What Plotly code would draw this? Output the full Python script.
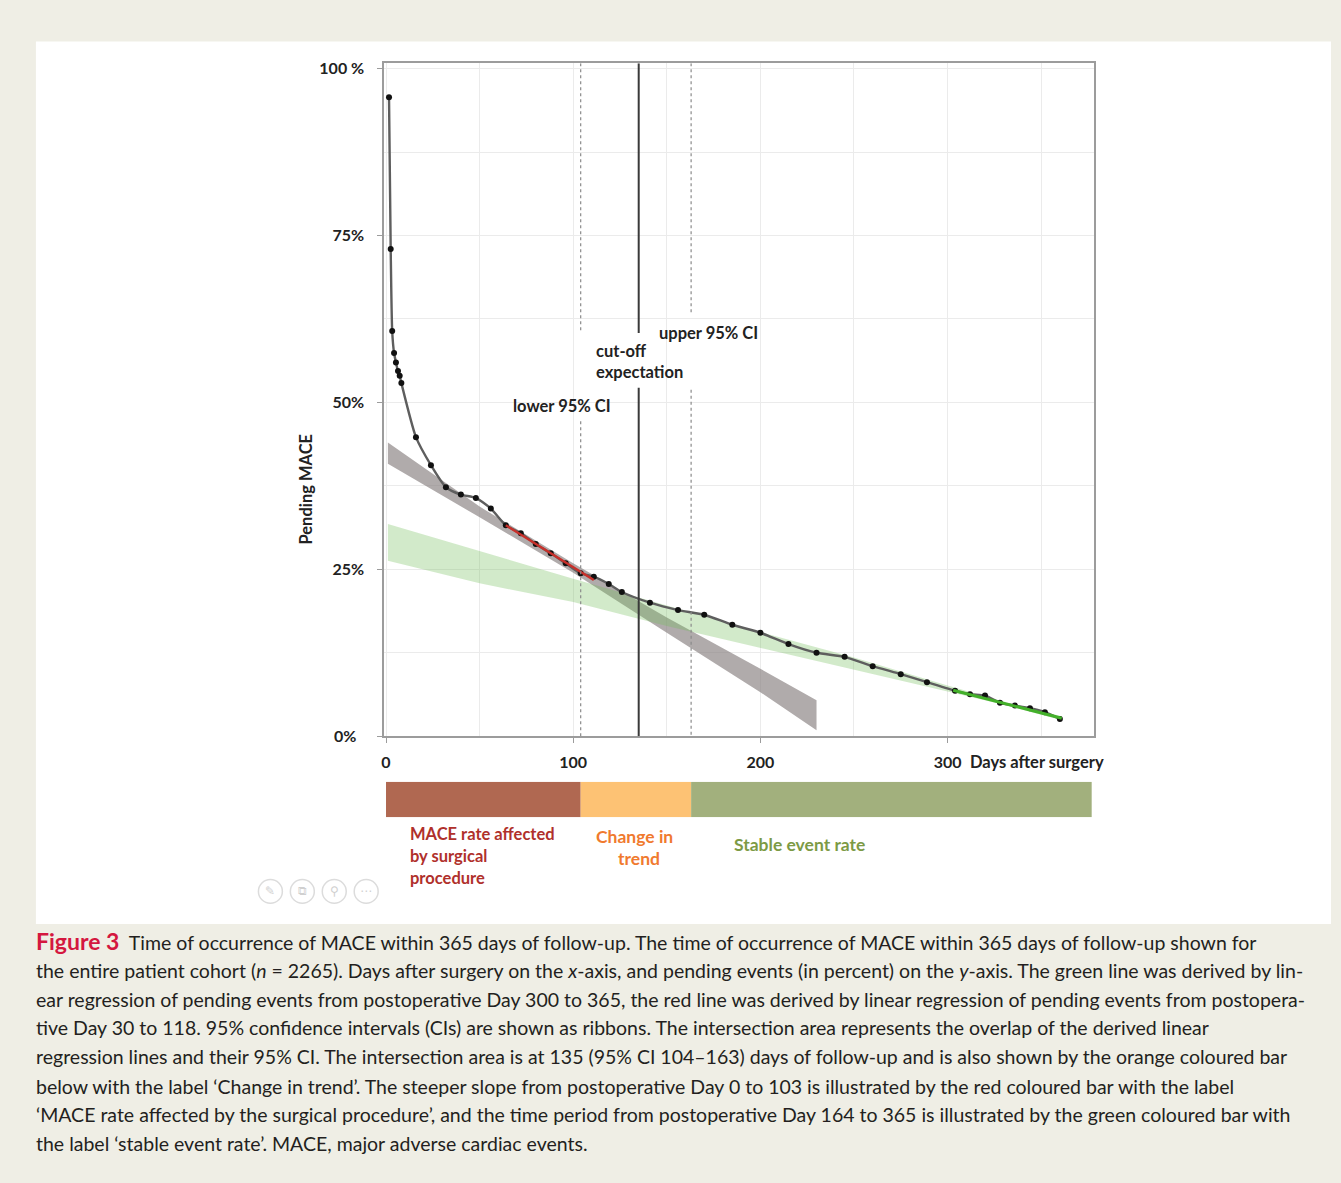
import plotly.graph_objects as go

# ---- Data -------------------------------------------------------------
# Pending MACE (percent) by day after surgery
days = [1.6, 2.5, 3.3, 4.3, 5.3, 6.4, 7.3, 8.2, 16, 24, 32, 40, 48, 56, 64,
        72, 80, 88, 96, 104, 111, 119, 126, 141, 156, 170, 185, 200, 215,
        230, 245, 260, 275, 289, 304, 312, 320, 328, 336, 344, 352, 360]
pending = [95.7, 73.0, 60.7, 57.4, 56.0, 54.7, 54.0, 52.9, 44.8, 40.6, 37.3,
           36.2, 35.7, 34.1, 31.6, 30.4, 28.8, 27.4, 25.9, 24.4, 23.9, 22.8,
           21.6, 20.0, 18.9, 18.2, 16.7, 15.5, 13.8, 12.5, 11.9, 10.5, 9.3,
           8.1, 6.8, 6.3, 6.1, 5.0, 4.6, 4.2, 3.6, 2.6]

# Early regression line (red) and its 95% CI ribbon (grey)
early_fit_days = [64, 111]
early_fit_pct = [31.6, 23.4]
early_ci_days = [1, 50, 100, 150, 200, 230]
early_ci_upper = [44.0, 34.4, 25.9, 17.8, 10.1, 5.4]
early_ci_lower = [40.8, 32.8, 24.5, 15.5, 6.6, 0.9]

# Late regression line (green) and its 95% CI ribbon (light green)
late_fit_days = [303, 361]
late_fit_pct = [6.9, 2.7]
late_ci_days = [1, 50, 100, 150, 200, 250, 300, 330, 361]
late_ci_upper = [31.8, 27.7, 23.6, 19.6, 15.6, 11.8, 7.6, 5.2, 3.0]
late_ci_lower = [26.3, 22.9, 20.1, 16.5, 13.2, 10.0, 6.7, 4.7, 2.4]

# Intersection of the two regressions: cut-off and its 95% CI (days)
ci_low_day = 104
cutoff_day = 135
ci_high_day = 163

# Phase bar under the axis
phase_names = ["MACE rate affected by surgical procedure", "Change in trend",
               "Stable event rate"]
phase_start = [0, 104, 163]
phase_end = [104, 163, 377]

x_ticks = [0, 100, 200, 300]
x_ticktext = ["0", "100", "200", "300"]
y_ticks = [0, 25, 50, 75, 100]
y_ticktext = ["0%  ", "25%", "50%", "75%", "100 %"]

# ---- Figure -----------------------------------------------------------
W, H = 1341, 1183
BG = "#EFEEE5"
LABEL_FONT = "Lato"


def px_x(v):
    return v / W


def px_y(v):
    return 1 - v / H


fig = go.Figure()

# CI ribbons
fig.add_trace(go.Scatter(
    x=early_ci_days + early_ci_days[::-1],
    y=early_ci_upper + early_ci_lower[::-1],
    fill="toself", fillcolor="rgba(135,128,128,0.66)",
    line=dict(width=0), mode="lines", hoverinfo="skip", showlegend=False))
fig.add_trace(go.Scatter(
    x=late_ci_days + late_ci_days[::-1],
    y=late_ci_upper + late_ci_lower[::-1],
    fill="toself", fillcolor="rgba(115,190,90,0.32)",
    line=dict(width=0), mode="lines", hoverinfo="skip", showlegend=False))

# Observed pending MACE
fig.add_trace(go.Scatter(
    x=days, y=pending, mode="lines+markers",
    line=dict(color="#5e5e5e", width=2.4, shape="spline", smoothing=0.6),
    marker=dict(color="#111111", size=6), showlegend=False))

# Regression lines
fig.add_trace(go.Scatter(
    x=early_fit_days, y=early_fit_pct, mode="lines",
    line=dict(color="#C8302A", width=2.5), showlegend=False))
fig.add_trace(go.Scatter(
    x=late_fit_days, y=late_fit_pct, mode="lines",
    line=dict(color="#43B02A", width=3), showlegend=False))

# Phase bar (separate thin axis below the chart)
phase_colors = ["#B06851", "#FDC274", "#A2B07D"]
fig.add_trace(go.Bar(
    x=[e - s for s, e in zip(phase_start, phase_end)], base=phase_start,
    y=[0, 0, 0], orientation="h", width=1,
    marker=dict(color=phase_colors, line=dict(width=0)),
    hovertext=phase_names, showlegend=False, xaxis="x2", yaxis="y2"))

# Reference lines at the cut-off and its CI (broken where labels sit)
Y_TOP = 100.8
ref_lines = [
    (ci_low_day, [(Y_TOP, 60.4), (47.2, 0)], dict(color="#8a8a8a", width=1.2, dash="dot")),
    (cutoff_day, [(Y_TOP, 60.4), (52.2, 0)], dict(color="#3a3a3a", width=2)),
    (ci_high_day, [(Y_TOP, 63.5), (51.9, 0)], dict(color="#8a8a8a", width=1.2, dash="dot")),
]
for xd, segs, style in ref_lines:
    for y0, y1 in segs:
        fig.add_shape(type="line", xref="x", yref="y", x0=xd, x1=xd,
                      y0=y0, y1=y1, line=style, layer="above")

# White panel behind the chart
fig.add_shape(type="rect", xref="paper", yref="paper",
              x0=px_x(33), x1=px_x(1331), y0=px_y(930), y1=px_y(37),
              fillcolor="white", line=dict(width=0), layer="below")

# Faint viewer buttons in the panel corner
for cx in [268, 300, 332, 364]:
    fig.add_shape(type="circle", xref="paper", yref="paper",
                  x0=px_x(cx - 12), x1=px_x(cx + 12),
                  y0=px_y(909), y1=px_y(885),
                  line=dict(color="#dcdcdc", width=1.5), fillcolor="white")
for cx, glyph in zip([268, 300, 332, 364], ["✎", "⧉", "⚲", "⋯"]):
    fig.add_annotation(text=glyph, x=px_x(cx), y=px_y(897), xref="paper",
                       yref="paper", showarrow=False, xanchor="center",
                       yanchor="middle",
                       font=dict(family="DejaVu Sans", size=12, color="#d0d0d0"))

ann_font = dict(family=LABEL_FONT, size=16.5, color="#222222", weight="bold")
chart_labels = [
    ("upper 95% CI", 145, 60.4),
    ("cut-off", 111, 57.7),
    ("expectation", 111, 54.5),
    ("lower 95% CI", 67, 49.4),
]
for txt, xv, yv in chart_labels:
    fig.add_annotation(text=txt, x=xv, y=yv, xref="x", yref="y",
                       xanchor="left", yanchor="middle", showarrow=False,
                       font=ann_font)

# Axis titles
fig.add_annotation(text="Pending MACE", x=px_x(304), y=px_y(490),
                   xref="paper", yref="paper", textangle=-90,
                   xanchor="center", yanchor="middle",
                   showarrow=False, font=ann_font)
fig.add_annotation(text="Days after surgery", x=311, y=px_y(766),
                   xref="x", yref="paper", xanchor="left", yanchor="middle",
                   showarrow=False, font=ann_font)

# Phase labels
for txt, xv, yv, anchor, col, size in [
        ("MACE rate affected", 12, 839, "left", "#B0302B", 16.5),
        ("by surgical", 12, 861, "left", "#B0302B", 16.5),
        ("procedure", 12, 883, "left", "#B0302B", 16.5),
        ("Change in", 133, 841, "center", "#F07A2E", 17.5),
        ("trend", 135, 864, "center", "#F07A2E", 17.5),
        ("Stable event rate", 185, 850, "left", "#7C9A45", 17.5)]:
    fig.add_annotation(text=txt, x=xv, y=px_y(yv), xref="x", yref="paper",
                       xanchor=anchor, yanchor="middle", showarrow=False,
                       font=dict(family=LABEL_FONT, size=size, weight="bold",
                                 color=col))

# Caption
caption_lines = [
    "<span style='color:#D4173F;font-size:23px'><b>Figure 3</b></span>  Time of occurrence of MACE within 365 days of follow-up. The time of occurrence of MACE within 365 days of follow-up shown for",
    "the entire patient cohort (<i>n</i> = 2265). Days after surgery on the <i>x</i>-axis, and pending events (in percent) on the <i>y</i>-axis. The green line was derived by lin-",
    "ear regression of pending events from postoperative Day 300 to 365, the red line was derived by linear regression of pending events from postopera-",
    "tive Day 30 to 118. 95% confidence intervals (CIs) are shown as ribbons. The intersection area represents the overlap of the derived linear",
    "regression lines and their 95% CI. The intersection area is at 135 (95% CI 104–163) days of follow-up and is also shown by the orange coloured bar",
    "below with the label ‘Change in trend’. The steeper slope from postoperative Day 0 to 103 is illustrated by the red coloured bar with the label",
    "‘MACE rate affected by the surgical procedure’, and the time period from postoperative Day 164 to 365 is illustrated by the green coloured bar with",
    "the label ‘stable event rate’. MACE, major adverse cardiac events.",
]
caption_y = [947, 977, 1006, 1035, 1064, 1094, 1123, 1152]
for line, yc in zip(caption_lines, caption_y):
    fig.add_annotation(text=line, x=px_x(31), y=px_y(yc), xref="paper",
                       yref="paper", xanchor="left", yanchor="middle",
                       showarrow=False,
                       font=dict(family=LABEL_FONT, size=19.5, color="#231F20"))

tick_font = dict(family=LABEL_FONT, size=16, color="#222222", weight="bold")
x_domain = [px_x(382), px_x(1093)]
fig.update_layout(
    width=W, height=H,
    margin=dict(l=0, r=0, t=0, b=0),
    paper_bgcolor=BG, plot_bgcolor="white",
    showlegend=False, barmode="overlay",
    xaxis=dict(domain=x_domain, range=[-1, 378], anchor="y",
               tickmode="array", tickvals=x_ticks, ticktext=x_ticktext,
               showgrid=True, gridcolor="#ebebeb", gridwidth=1,
               minor=dict(tickmode="linear", tick0=0, dtick=50,
                          showgrid=True, gridcolor="#ebebeb", ticks=""),
               zeroline=False, showline=True, linecolor="#9c9c9c",
               linewidth=1.5, mirror=True, ticks="outside", ticklen=5,
               tickcolor="#9c9c9c", tickfont=tick_font,
               ticklabelstandoff=6),
    yaxis=dict(domain=[px_y(740), px_y(59)], range=[0, Y_TOP], anchor="x",
               tickmode="array", tickvals=y_ticks, ticktext=y_ticktext,
               showgrid=True, gridcolor="#ebebeb", gridwidth=1,
               minor=dict(tickmode="linear", tick0=0, dtick=12.5,
                          showgrid=True, gridcolor="#ebebeb", ticks=""),
               zeroline=False, showline=True, linecolor="#9c9c9c",
               linewidth=1.5, mirror=True, ticks="outside", ticklen=5,
               tickcolor="#9c9c9c", tickfont=tick_font,
               ticklabelstandoff=10),
    xaxis2=dict(domain=x_domain, range=[-1, 378], anchor="y2",
                visible=False, showgrid=False),
    yaxis2=dict(domain=[px_y(822), px_y(786)], range=[-0.5, 0.5],
                anchor="x2", visible=False, showgrid=False),
)

fig.write_html("out.html")
